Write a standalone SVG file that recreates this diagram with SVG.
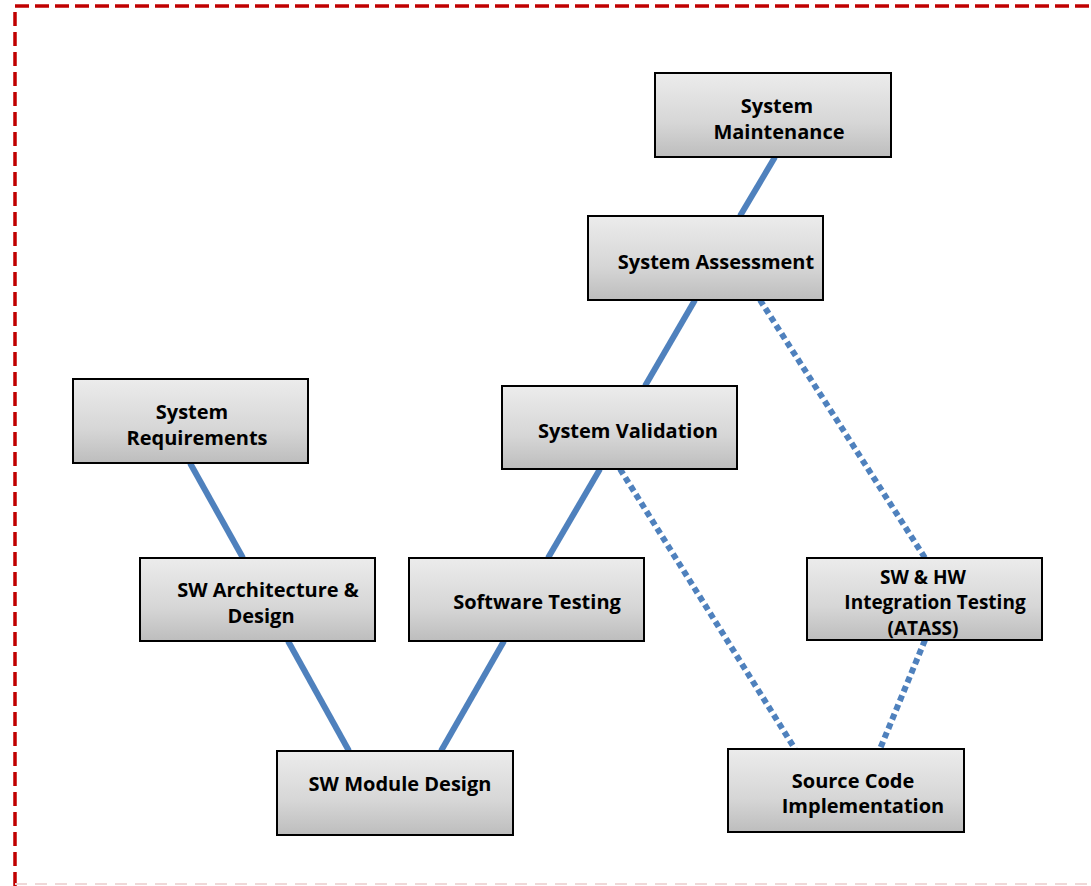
<svg xmlns="http://www.w3.org/2000/svg" width="1091" height="886" viewBox="0 0 1091 886">
<defs>
<linearGradient id="g" x1="0" y1="0" x2="0" y2="1">
<stop offset="0" stop-color="#ececec"/>
<stop offset="0.6" stop-color="#d6d6d6"/>
<stop offset="1" stop-color="#bdbdbd"/>
</linearGradient>
</defs>
<style>
.box{fill:url(#g);stroke:#000;stroke-width:2}
.t{font-family:"Open Sans","Liberation Sans",sans-serif;font-weight:bold;font-size:20px;fill:#000;text-anchor:middle}
.sm{font-size:19px}
.s{stroke:#4f81bd;stroke-width:6;fill:none}
.d{stroke:#4f81bd;stroke-width:6;fill:none;stroke-dasharray:6 4}
.frame{fill:none;stroke:#c00000;stroke-width:3.5;stroke-dasharray:14 6}
</style>
<rect width="1091" height="886" fill="#fff"/>
<path class="frame" d="M15,886 V6 H1091"/>
<path d="M15,884 H1091" stroke="#f0d8d8" stroke-width="2" stroke-dasharray="12 8" fill="none"/>
<g id="connectors">
<line class="s" x1="775" y1="157" x2="740" y2="216"/>
<line class="s" x1="695" y1="300" x2="645" y2="386"/>
<line class="s" x1="190" y1="463" x2="243" y2="558"/>
<line class="s" x1="288" y1="641" x2="349" y2="751"/>
<line class="s" x1="441" y1="751" x2="504" y2="641"/>
<line class="s" x1="548" y1="558" x2="600" y2="469"/>
<line class="d" x1="760" y1="300" x2="925" y2="558"/>
<line class="d" x1="620" y1="469" x2="795" y2="749"/>
<line class="d" x1="925" y1="640" x2="880" y2="749"/>
</g>
<g id="system-maintenance"><rect class="box" x="655" y="73" width="236" height="84"/><text class="t" x="777" y="113">System</text><text class="t" x="779" y="139">Maintenance</text></g>
<g id="system-assessment"><rect class="box" x="588" y="216" width="235" height="84"/><text class="t" x="716" y="269">System Assessment</text></g>
<g id="system-requirements"><rect class="box" x="73" y="379" width="235" height="84"/><text class="t" x="192" y="419">System</text><text class="t" x="197" y="445">Requirements</text></g>
<g id="system-validation"><rect class="box" x="502" y="386" width="235" height="83"/><text class="t" x="628" y="438">System Validation</text></g>
<g id="sw-architecture"><rect class="box" x="140" y="558" width="235" height="83"/><text class="t" x="268" y="597">SW Architecture &amp;</text><text class="t" x="261" y="623">Design</text></g>
<g id="software-testing"><rect class="box" x="409" y="558" width="235" height="83"/><text class="t" x="537" y="609">Software Testing</text></g>
<g id="sw-hw-integration"><rect class="box" x="807" y="558" width="235" height="82"/><text class="t sm" x="923" y="584">SW &amp; HW</text><text class="t sm" x="935" y="609">Integration Testing</text><text class="t sm" x="923" y="635">(ATASS)</text></g>
<g id="sw-module-design"><rect class="box" x="277" y="751" width="236" height="84"/><text class="t" x="400" y="791">SW Module Design</text></g>
<g id="source-code"><rect class="box" x="728" y="749" width="236" height="83"/><text class="t" x="853" y="788">Source Code</text><text class="t" x="863" y="813">Implementation</text></g>
</svg>
